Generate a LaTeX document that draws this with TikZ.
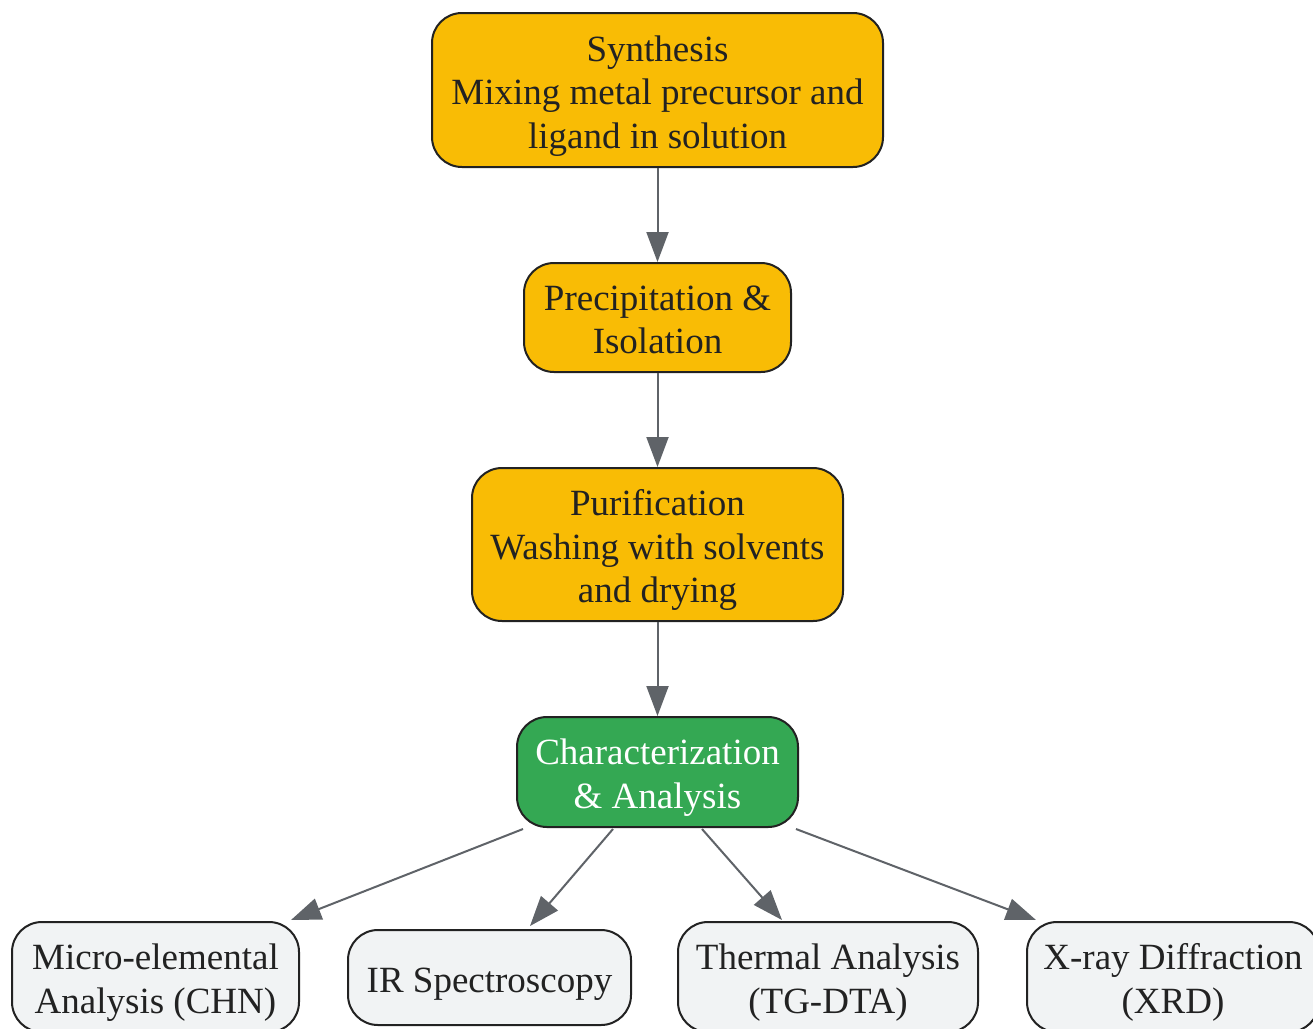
\documentclass[tikz,border=0pt]{standalone}
\usepackage{fontspec}
\setmainfont{Liberation Serif}
\usetikzlibrary{arrows.meta,calc}
\definecolor{orng}{HTML}{F9BC05}
\definecolor{grn}{HTML}{34A853}
\definecolor{lgray}{HTML}{F1F3F4}
\definecolor{edgec}{HTML}{5F6368}
\definecolor{ink}{HTML}{222222}
\newcommand{\boxtext}[1]{\raisebox{-6pt}[\height][\depth]{\begin{tabular}{@{}c@{}}#1\end{tabular}}}
\begin{document}
\begin{tikzpicture}[x=1pt,y=-1pt,
  box/.style={draw=ink, line width=2pt, rounded corners=30pt, inner sep=0pt,
    font=\fontsize{37}{43.5}\selectfont, text=ink},
  proc/.style={box, fill=orng},
  hub/.style={box, fill=grn, text=white},
  leaf/.style={box, fill=lgray},
  arr/.style={draw=edgec, line width=2pt, -{Triangle[length=30pt,width=22pt]}}]
\path[use as bounding box] (0,0) rectangle (1313,1028);
\clip (0,0) rectangle (1313,1028);
\fill[white] (0,0) rectangle (1313,1028);

\node[proc, minimum width=451pt, minimum height=154pt] (syn) at (657.5,90)
  {\boxtext{Synthesis\\Mixing metal precursor and\\ligand in solution}};
\node[proc, minimum width=267pt, minimum height=109pt] (pre) at (657.5,317.5)
  {\boxtext{Precipitation \&\\Isolation}};
\node[proc, minimum width=371pt, minimum height=153pt] (pur) at (657.5,544.5)
  {\boxtext{Purification\\Washing with solvents\\and drying}};
\node[hub, minimum width=281pt, minimum height=110pt] (chr) at (657.5,772)
  {\boxtext{Characterization\\\& Analysis}};
\node[leaf, minimum width=287pt, minimum height=110pt] (chn) at (155.5,977)
  {\boxtext{Micro-elemental\\Analysis (CHN)}};
\node[leaf, minimum width=283pt, minimum height=95pt] (ir) at (489.5,977.5)
  {\boxtext{IR Spectroscopy}};
\node[leaf, minimum width=300pt, minimum height=110pt] (tg) at (828,977)
  {\boxtext{Thermal Analysis\\(TG-DTA)}};
\node[leaf, minimum width=292pt, minimum height=110pt] (xrd) at (1173,977)
  {\boxtext{X-ray Diffraction\\(XRD)}};

\draw[arr] (syn) -- (pre);
\draw[arr] (pre) -- (pur);
\draw[arr] (pur) -- (chr);
\draw[arr] ($(chr.south west)+(7,1)$) -- ($(chn.north east)+(-9,-1)$);
\draw[arr] ($(chr.south)+(-44.5,1)$) -- ($(ir.north)+(40.5,-3)$);
\draw[arr] ($(chr.south)+(44.5,1)$) -- ($(tg.north)+(-46,-1)$);
\draw[arr] ($(chr.south east)+(-3,1)$) -- ($(xrd.north west)+(10,-1)$);
\end{tikzpicture}
\end{document}
